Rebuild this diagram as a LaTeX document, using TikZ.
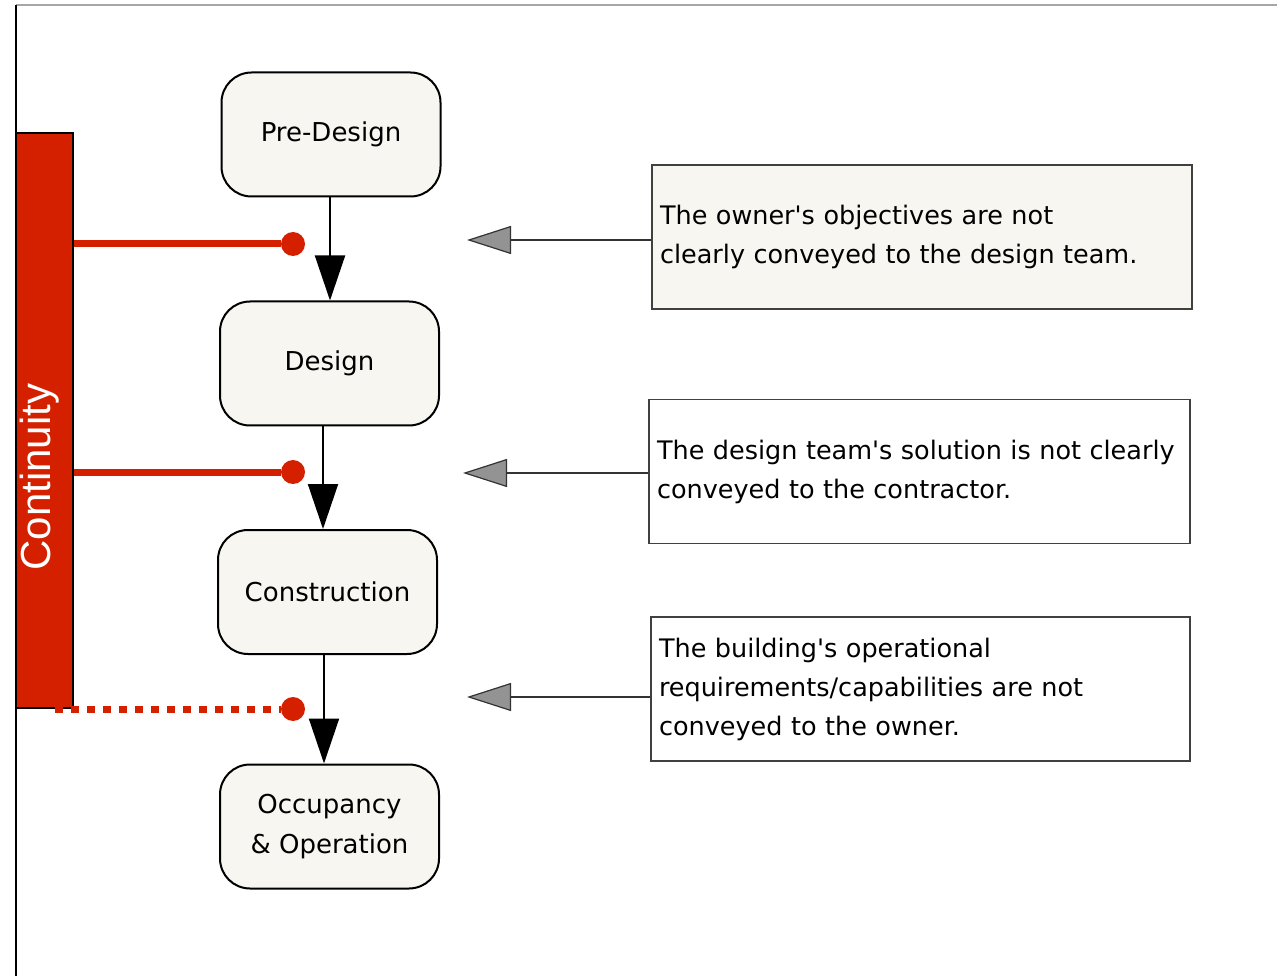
\documentclass[tikz,border=0pt]{standalone}
\usepackage{fontspec}
\setmainfont{DejaVu Sans}[Ligatures=TeXOff]
\newfontfamily\barfont{Liberation Sans}
\usepackage{tikz}
\usetikzlibrary{positioning, arrows.meta}
\definecolor{barred}{RGB}{213,32,0}
\definecolor{paper}{RGB}{247,246,241}
\tikzstyle{Stage} = [rectangle, rounded corners=30pt, minimum width=219pt, minimum height=124pt, draw=black, line width=2pt, fill=paper, align=center, font=\fontsize{26}{40}\selectfont]
\tikzstyle{Note} = [rectangle, minimum height=144pt, text width=524pt, inner xsep=8pt, draw=black!75, line width=1.5pt, fill=white, align=left, font=\fontsize{25.5}{39}\selectfont]
\tikzstyle{Dot} = [circle, minimum size=24pt, inner sep=0pt, fill=barred]
\tikzstyle{Link} = [barred, line width=7pt]
\tikzstyle{Flow} = [-{Triangle[length=45pt, width=30pt]}, line width=2pt]
\tikzstyle{Flag} = [-{Triangle[length=44pt, width=28pt, fill=gray!85]}, line width=1.2pt, draw=black!80]

\begin{document}
\begin{tikzpicture}[x=1pt, y=-1pt]
    \useasboundingbox (0,0) rectangle (1278,976);

    %%%%%%%%%%%%%%%%%%%%%%
    \draw [gray!70, line width=1.5pt] (16,5) -- (1277,5);
    \draw [black, line width=2pt] (16,5) -- (16,976);

    %%%%%%%%%%%%%%%%%%%%%%
    \node[Stage] (pre) at (331,134.5) {Pre-Design};
    \node[Stage] (design) at (329.5,363.5) {Design};
    \node[Stage] (constr) at (327.5,592) {Construction};
    \node[Stage] (occ) at (329.5,826.5) {Occupancy\\\& Operation};

    \draw[Flow] ([xshift=-1pt]pre.south) to ([xshift=-1pt]pre.south |- design.north);
    \draw[Flow] ([xshift=-6.5pt]design.south) to ([xshift=-6.5pt]design.south |- constr.north);
    \draw[Flow] ([xshift=-3.5pt]constr.south) to ([xshift=-3.5pt]constr.south |- occ.north);

    %%%%%%%%%%%%%%%%%%%%%%
    \node[draw=black, line width=2pt, fill=barred, minimum width=57pt, minimum height=575pt, inner sep=0pt] (bar) at (44.5,420.5) {};
    \node[rotate=90, text=white, font=\barfont\fontsize{42}{42}\selectfont] (barlabel) at (40,477) {Continuity};

    \node[Dot] (j1) at (293,244) {};
    \node[Dot] (j2) at (293,472) {};
    \node[Dot] (j3) at (293,709) {};
    \coordinate (lapse) at (55,709);

    \draw[Link] (bar.east |- j1) to (j1);
    \draw[Link] (bar.east |- j2) to (j2);
    \draw[Link, dash pattern=on 8pt off 8pt] (lapse) to (j3);

    %%%%%%%%%%%%%%%%%%%%%%
    \node[Note, fill=paper] (note1) at (922,237) {The owner's objectives are not\\clearly conveyed to the design team.};
    \node[Note, text width=525pt] (note2) at (919.5,471.5) {The design team's solution is not clearly\\conveyed to the contractor.};
    \node[Note, text width=523pt] (note3) at (920.5,689) {The building's operational\\requirements/capabilities are not\\conveyed to the owner.};

    \coordinate (gap1) at (467,240);
    \coordinate (gap2) at (463,473);
    \coordinate (gap3) at (467,697);
    \draw[Flag] (note1.west |- gap1) to (gap1);
    \draw[Flag] (note2.west |- gap2) to (gap2);
    \draw[Flag] (note3.west |- gap3) to (gap3);

\end{tikzpicture}
\end{document}
